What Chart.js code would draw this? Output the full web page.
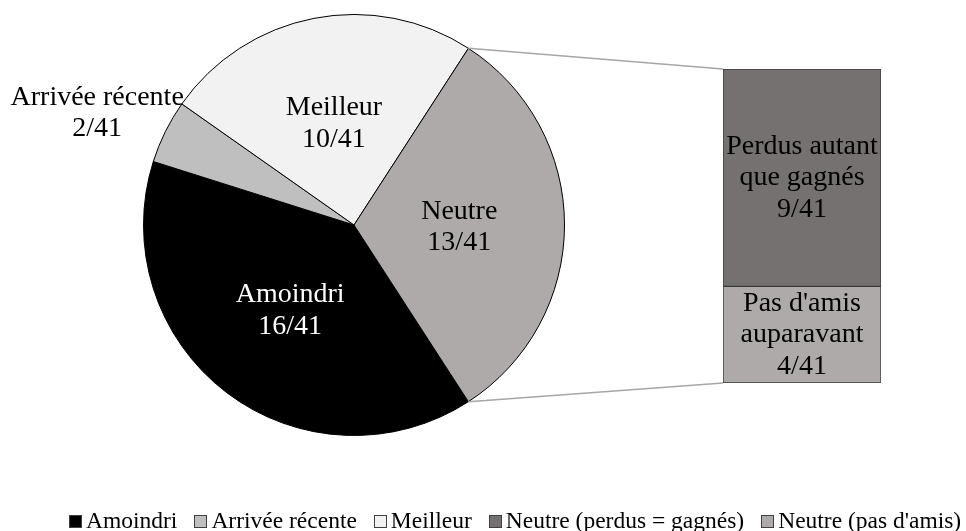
<!DOCTYPE html>
<html>
<head>
<meta charset="utf-8">
<script src="https://cdn.jsdelivr.net/npm/chart.js@4.4.0/dist/chart.umd.min.js"></script>
<style>
  body { margin: 0; background: #fff; }
  #wrap { position: relative; width: 966px; height: 531px; overflow: hidden; }
  #wrap canvas { position: absolute; left: 0; top: 0; }
  #legend {
    position: absolute; left: 69px; top: 507px;
    display: flex; gap: 17px; white-space: nowrap;
    font: 23.5px "Liberation Serif", "Times New Roman", serif; line-height: 26px; color: #000;
  }
  #legend .item { display: flex; align-items: center; }
  #legend .box { width: 11px; height: 11px; border: 1px solid #404040; margin-right: 4px; margin-top: 3px; }
</style>
</head>
<body>
<div id="wrap">
  <canvas id="pieChart" width="966" height="531"></canvas>
  <canvas id="barChart" width="966" height="531"></canvas>
  <div id="legend"></div>
</div>
<script>
const total = 41;

const pieLabels = ['Amoindri', 'Arrivée récente', 'Meilleur', 'Neutre'];
const pieValues = [16, 2, 10, 13];
const pieColors = ['#000000', '#bfbfbf', '#f2f2f2', '#aeaaaa'];
const pieTextColors = ['#ffffff', '#000000', '#000000', '#000000'];

// stacked bar, bottom first
const barLines = [['Pas d\'amis', 'auparavant'], ['Perdus autant', 'que gagnés']];
const barValues = [4, 9];
const barColors = ['#aeaaaa', '#767171'];

const legendLabels = ['Amoindri', 'Arrivée récente', 'Meilleur', 'Neutre (perdus = gagnés)', 'Neutre (pas d\'amis)'];
const legendColors = ['#000000', '#bfbfbf', '#f2f2f2', '#767171', '#aeaaaa'];

const FONT = '28px "Liberation Serif", "Times New Roman", serif';
const LINE = 31.5;

function drawLines(ctx, lines, x, y, color) {
    ctx.save();
    ctx.font = FONT;
    ctx.fillStyle = color;
    ctx.textAlign = 'center';
    ctx.textBaseline = 'middle';
    const top = y - (lines.length - 1) * LINE / 2;
    lines.forEach((l, i) => ctx.fillText(l, x, top + i * LINE));
    ctx.restore();
}

const pieLabelPlugin = {
    id: 'pieLabels',
    afterDatasetsDraw(chart) {
        const ctx = chart.ctx;
        const meta = chart.getDatasetMeta(0);
        meta.data.forEach((arc, i) => {
            const lines = [pieLabels[i], pieValues[i] + '/' + total];
            const r = arc.outerRadius;
            if (pieValues[i] / total < 0.08) {
                // small slice: label outside, its right end at the upper slice edge
                ctx.save();
                ctx.font = FONT;
                const w = ctx.measureText(lines[0]).width;
                ctx.restore();
                const ex = arc.x + Math.cos(arc.endAngle) * r;
                const ey = arc.y + Math.sin(arc.endAngle) * r;
                drawLines(ctx, lines, ex + 2 - w / 2, ey + 9, '#000');
            } else {
                const mid = (arc.startAngle + arc.endAngle) / 2;
                drawLines(ctx, lines, arc.x + Math.cos(mid) * r * 0.5, arc.y + Math.sin(mid) * r * 0.5 + 2, pieTextColors[i]);
            }
        });
    }
};

const pieChart = new Chart(document.getElementById('pieChart'), {
    type: 'pie',
    data: {
        labels: pieLabels,
        datasets: [{
            data: pieValues,
            backgroundColor: pieColors,
            borderColor: '#000000',
            borderWidth: 1
        }]
    },
    options: {
        responsive: false,
        animation: false,
        // Neutre centred on the right side
        rotation: 90 + (pieValues[3] / total) * 180,
        layout: { padding: { left: 143, right: 401, top: 14, bottom: 95 } },
        plugins: { legend: { display: false }, tooltip: { enabled: false } }
    },
    plugins: [pieLabelPlugin]
});

const barPlugin = {
    id: 'barExtras',
    afterDraw(chart) {
        const ctx = chart.ctx;
        // connector lines from the Neutre slice to the bar
        const arc = pieChart.getDatasetMeta(0).data[3];
        const r = arc.outerRadius;
        const area = chart.chartArea;
        ctx.save();
        ctx.strokeStyle = '#a6a6a6';
        ctx.lineWidth = 1.5;
        ctx.beginPath();
        ctx.moveTo(arc.x + Math.cos(arc.startAngle) * r, arc.y + Math.sin(arc.startAngle) * r);
        ctx.lineTo(area.left, area.top);
        ctx.moveTo(arc.x + Math.cos(arc.endAngle) * r, arc.y + Math.sin(arc.endAngle) * r);
        ctx.lineTo(area.left, area.bottom);
        ctx.stroke();
        ctx.restore();

        chart.data.datasets.forEach((ds, i) => {
            const el = chart.getDatasetMeta(i).data[0];
            const lines = barLines[i].concat([barValues[i] + '/' + total]);
            drawLines(ctx, lines, el.x, (el.y + el.base) / 2, '#000');
        });
    }
};

new Chart(document.getElementById('barChart'), {
    type: 'bar',
    data: {
        labels: ['Neutre'],
        datasets: barValues.map((v, i) => ({
            label: legendLabels[4 - i],
            data: [v],
            backgroundColor: barColors[i],
            borderColor: '#3a3a3a',
            borderWidth: 1,
            borderSkipped: false,
            barPercentage: 1,
            categoryPercentage: 1
        }))
    },
    options: {
        responsive: false,
        animation: false,
        layout: { padding: { left: 723, right: 85, top: 69, bottom: 148 } },
        scales: {
            x: { stacked: true, display: false },
            y: { stacked: true, display: false, min: 0, max: barValues.reduce((a, b) => a + b, 0) }
        },
        plugins: { legend: { display: false }, tooltip: { enabled: false } }
    },
    plugins: [barPlugin]
});

const legend = document.getElementById('legend');
legendLabels.forEach((label, i) => {
    const item = document.createElement('div');
    item.className = 'item';
    const box = document.createElement('span');
    box.className = 'box';
    box.style.background = legendColors[i];
    const txt = document.createElement('span');
    txt.textContent = label;
    item.appendChild(box);
    item.appendChild(txt);
    legend.appendChild(item);
});
</script>
</body>
</html>
